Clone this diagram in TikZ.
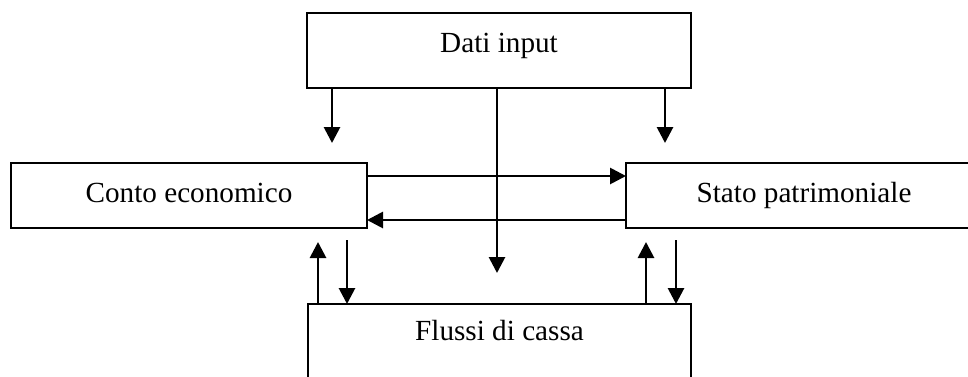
\documentclass[tikz,border=0pt]{standalone}
\usepackage{fontspec}
\setmainfont{Liberation Serif}
\usetikzlibrary{arrows.meta}

\begin{document}
\begin{tikzpicture}[x=0.5pt, y=-0.5pt,
  box/.style={draw, line width=1.1pt, inner sep=0pt, outer sep=0pt},
  lbl/.style={inner sep=0pt, anchor=base, font=\fontsize{14.6pt}{17pt}\selectfont},
  arr/.style={line width=1.4pt, -{Triangle[width=8pt,length=8pt]}}]

\useasboundingbox (0,0) rectangle (968,376);
\clip (0,0) rectangle (968,376);

% boxes
\node[box, minimum width=192pt,  minimum height=37.5pt] (dati)   at (499,50.5)    {};
\node[box, minimum width=178pt,  minimum height=32.5pt] (conto)  at (189,195.5)   {};
\node[box, minimum width=178pt,  minimum height=32.5pt] (stato)  at (804,195.5)   {};
\node[box, minimum width=191.5pt,minimum height=37.5pt] (flussi) at (499.5,341.5) {};

% captions
\node[lbl] (tdati)   at (499,52)    {Dati input};
\node[lbl] (tconto)  at (189,202)   {Conto economico};
\node[lbl] (tstato)  at (804,202)   {Stato patrimoniale};
\node[lbl] (tflussi) at (499.5,340) {Flussi di cassa};

% free ends of the connectors
\coordinate (dl) at (332,143);
\coordinate (dr) at (665,143);
\coordinate (dm) at (497,273);
\coordinate (hu) at (0,176);
\coordinate (hd) at (0,220);
\coordinate (ul) at (318,242);
\coordinate (dnl) at (347,240);
\coordinate (ur) at (646,242);
\coordinate (dnr) at (676,240);

% from the input data
\draw[arr] (dati.south -| dl) -- (dl);
\draw[arr] (dati.south -| dr) -- (dr);
\draw[arr] (dati.south -| dm) -- (dm);

% between income statement and balance sheet
\draw[arr] (conto.east |- hu) -- (stato.west |- hu);
\draw[arr] (stato.west |- hd) -- (conto.east |- hd);

% to and from the cash flows
\draw[arr] (flussi.north -| ul) -- (ul);
\draw[arr] (dnl) -- (flussi.north -| dnl);
\draw[arr] (flussi.north -| ur) -- (ur);
\draw[arr] (dnr) -- (flussi.north -| dnr);
\end{tikzpicture}
\end{document}
